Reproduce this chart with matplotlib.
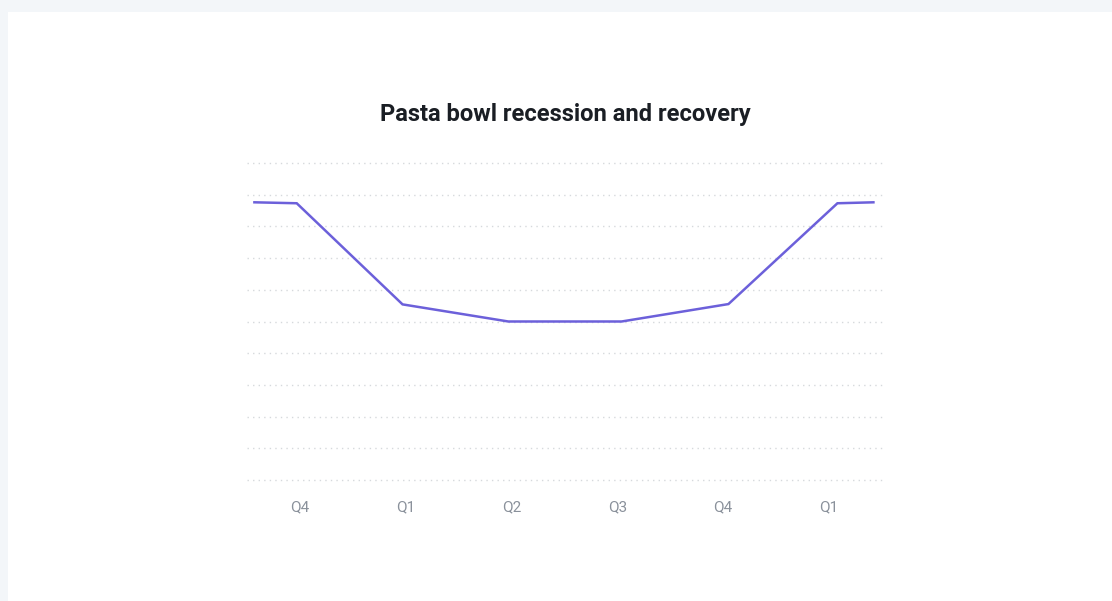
import matplotlib.pyplot as plt
from matplotlib.patches import Rectangle

# Data: x in quarter units (0 = first Q4 label), y on a 0-100 scale
quarter_labels = ['Q4', 'Q1', 'Q2', 'Q3', 'Q4', 'Q1']
x_vals = [-0.43, -0.03, 0.97, 1.97, 3.04, 4.05, 5.08, 5.42]
y_vals = [87.6, 87.3, 55.4, 50.0, 50.0, 55.5, 87.3, 87.6]

plt.rcParams['font.family'] = ['Roboto', 'DejaVu Sans']

fig = plt.figure(figsize=(11.12, 6.01), dpi=100)
fig.patch.set_facecolor('#f3f6f9')
# white card behind everything
fig.patches.append(Rectangle((8 / 1112, 0), 1, 1 - 12 / 601, transform=fig.transFigure,
                             facecolor='white', edgecolor='none', zorder=-10))

ax = fig.add_axes([247 / 1112, 1 - 480 / 601, (884 - 247) / 1112, (480 - 163) / 601])
ax.set_facecolor('none')
ax.set_zorder(1)

ax.plot(x_vals, y_vals, color='#6c60da', linewidth=1.8, solid_joinstyle='miter', zorder=3)

ax.set_xlim(-0.5, 5.52)
ax.set_ylim(0, 100)
ax.set_yticks(range(0, 101, 10))
ax.set_yticklabels([])
ax.set_xticks(range(len(quarter_labels)))
ax.set_xticklabels(quarter_labels, color='#8a919b', fontsize=11)
ax.tick_params(axis='both', length=0, pad=15)
ax.grid(axis='y', color='#d6d9dc', linestyle=(0, (1, 3)), linewidth=1)
for gl in ax.get_ygridlines():
    gl.set_clip_on(False)
for s in ax.spines.values():
    s.set_visible(False)

fig.text(565 / 1112, 1 - 114 / 601, 'Pasta bowl recession and recovery',
         ha='center', va='center', fontsize=17.1, fontweight='bold', color='#1a1e24')

fig.savefig('out.png', dpi=100, facecolor=fig.get_facecolor())
